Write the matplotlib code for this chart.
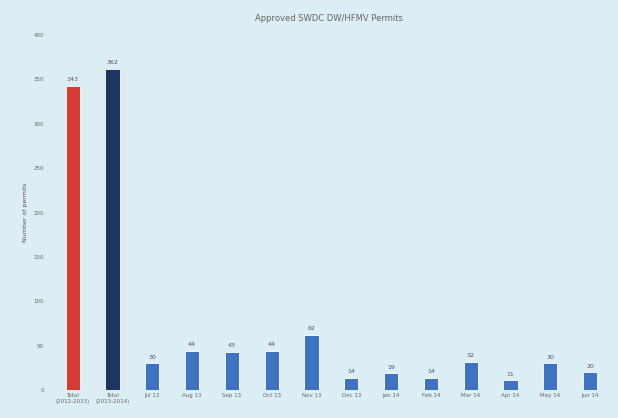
import matplotlib.pyplot as plt
import numpy as np

categories = ["Total\n(2012-2013)", "Total\n(2013-2014)", "Jul 13", "Aug 13", "Sep 13",
              "Oct 13", "Nov 13", "Dec 13", "Jan 14", "Feb 14", "Mar 14", "Apr 14",
              "May 14", "Jun 14"]
permits = [343, 362, 30, 44, 43, 44, 62, 14, 19, 14, 32, 11, 30, 20]
bar_colors = ["#d63c36", "#1e3560"] + ["#3e73c2"] * 12

bg = "#dcedf3"
fig, ax = plt.subplots(figsize=(6.18, 4.18), dpi=100)
fig.patch.set_facecolor(bg)
ax.set_facecolor(bg)
fig.subplots_adjust(left=0.079, right=0.987, top=0.916, bottom=0.067)

x = np.arange(len(categories))
bars = ax.bar(x, permits, 0.36, color=bar_colors, edgecolor="white", linewidth=0.6)
for xi, v in zip(x, permits):
    ax.text(xi, v + 4, str(v), ha="center", va="bottom", fontsize=4.5, color="#555555")

ax.set_ylim(0, 400)
ax.set_yticks(np.arange(0, 401, 50))
ax.set_xlim(-0.6, len(categories) - 0.5)
ax.set_xticks(x)
ax.set_xticklabels(categories, fontsize=4, color="#666666")
ax.tick_params(axis="y", labelsize=4, colors="#666666", length=0)
ax.tick_params(axis="x", length=0, pad=2)
ax.set_ylabel("Number of permits", fontsize=4.5, color="#555555")
ax.set_title("Approved SWDC DW/HFMV Permits", fontsize=6, color="#666666", pad=10)
for s in ax.spines.values():
    s.set_visible(False)

plt.savefig("out.png", facecolor=bg)
